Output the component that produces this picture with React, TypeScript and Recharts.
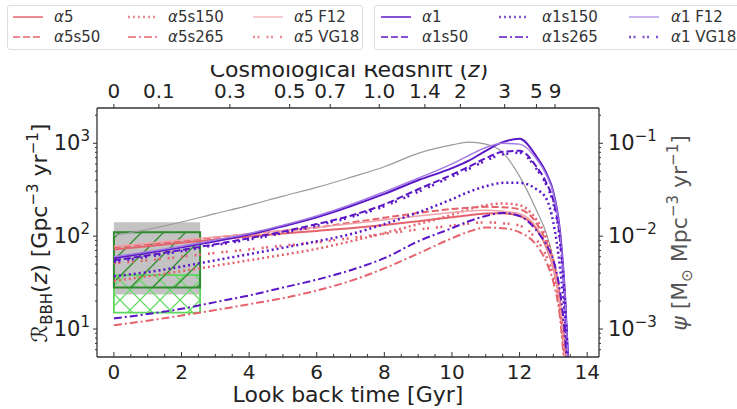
import React from 'react'
import { LineChart, Line, XAxis, YAxis, ReferenceArea } from 'recharts'

// look back time [Gyr]
const lookback = [0, 1, 2, 3, 4, 5, 6, 7, 8, 9, 10, 10.5, 11, 11.5, 12, 12.5, 12.8, 13.0, 13.2, 13.35, 13.5]

// merger rates, Gpc^-3 yr^-1
const a5 = [72, 78, 85, 92, 99, 107, 114, 122, 132, 145, 160, 168, 175, 177, 165, 120, 75, 45, 18, 4, 0.5]
const a5s50 = [76, 82, 89, 97, 105, 114, 124, 140, 158, 178, 196, 203, 207, 205, 195, 138, 85, 50, 20, 4.5, 0.5]
const a5s150 = [33, 37, 42, 48, 55, 63, 73, 88, 108, 135, 170, 195, 215, 225, 215, 150, 95, 55, 21, 5, 0.6]
const a5s265 = [11, 12.3, 14, 16, 18.5, 21.5, 26, 33, 45, 65, 95, 112, 124, 122, 110, 80, 52, 32, 13, 3, 0.4]
const a5F12 = [78, 84, 91, 98, 106, 115, 125, 136, 150, 165, 180, 187, 190, 185, 175, 125, 78, 46, 18, 4, 0.5]
const a5VG18 = [51, 55, 60, 66, 72, 79, 86, 95, 106, 118, 130, 137, 141, 138, 130, 92, 60, 36, 15, 3.5, 0.5]

const a1 = [58, 66, 76, 88, 104, 128, 160, 210, 285, 400, 540, 650, 830, 1030, 1120, 720, 470, 300, 110, 22, 1.5]
const a1s50 = [55, 62, 71, 82, 95, 112, 135, 166, 220, 320, 460, 560, 690, 810, 830, 560, 370, 240, 90, 18, 1.3]
const a1s150 = [37, 41, 47, 55, 64, 75, 88, 105, 135, 180, 250, 300, 345, 375, 375, 320, 250, 140, 45, 12, 1]
const a1s265 = [13, 14.5, 16.5, 19.5, 23, 28, 34, 43, 58, 88, 122, 145, 165, 178, 165, 115, 80, 55, 25, 8, 1]
const a1F12 = [60, 68, 78, 91, 107, 131, 165, 218, 300, 420, 600, 740, 900, 1000, 980, 680, 450, 290, 105, 21, 1.5]
const a1VG18 = [53, 60, 69, 80, 92, 108, 130, 160, 210, 300, 440, 530, 650, 760, 790, 530, 350, 225, 85, 17, 1.2]

// cosmic star formation rate, Msun Mpc^-3 yr^-1
const psi = [0.0102, 0.0118, 0.0142, 0.0175, 0.0215, 0.027, 0.0335, 0.043, 0.056, 0.078, 0.096, 0.103, 0.098, 0.08, 0.044, 0.019, 0.0105, 0.0055, 0.0018, 0.0006, 0.0001]

// local rate estimates (t from, t to, low, high)
const boxGray = [0, 2.55, 23.5, 141]
const boxLight = [0, 2.55, 15, 38]
const boxDark = [0, 2.55, 28, 110]

// redshift ticks on the top axis
const zTickPos = [0, 1.33, 3.43, 5.2, 6.4, 7.85, 9.2, 10.25, 11.56, 12.5, 13.05]
const zTickLabels = ['0', '0.1', '0.3', '0.5', '0.7', '1.0', '1.4', '2', '3', '5', '9']

const tTicks = Array.from({ length: 29 }, (_, i) => i * 0.5)
const rTicks = [6, 7, 8, 9, 10, 20, 30, 40, 50, 60, 70, 80, 90, 100, 200, 300, 400, 500, 600, 700, 800, 900, 1000, 2000]
const rMajor: Record<number, string> = { 10: '1', 100: '2', 1000: '3' }
const psiTicks = rTicks.map((v) => v / 10000)
const psiMajor: Record<string, string> = { '0.001': '−3', '0.01': '−2', '0.1': '−1' }

const RED = '#e4636c'
const RED_LIGHT = '#f0a2a7'
const PURPLE = '#5b16c6'
const PURPLE_LIGHT = '#a17ae4'

const FONT = 'DejaVu Sans, sans-serif'

const redSeries = [
  { key: 'a5', name: 'α5', data: a5, color: RED, dash: undefined, w: 2 },
  { key: 'a5s50', name: 'α5s50', data: a5s50, color: RED, dash: '7 3', w: 2 },
  { key: 'a5s150', name: 'α5s150', data: a5s150, color: RED, dash: '2 3', w: 2.5 },
  { key: 'a5s265', name: 'α5s265', data: a5s265, color: RED, dash: '8 3 2 3', w: 2 },
  { key: 'a5F12', name: 'α5 F12', data: a5F12, color: RED_LIGHT, dash: undefined, w: 1.5 },
  { key: 'a5VG18', name: 'α5 VG18', data: a5VG18, color: RED, dash: '2 2.5 2 7', w: 2.5 },
]
const purpleSeries = [
  { key: 'a1', name: 'α1', data: a1, color: PURPLE, dash: undefined, w: 2 },
  { key: 'a1s50', name: 'α1s50', data: a1s50, color: PURPLE, dash: '7 3', w: 2 },
  { key: 'a1s150', name: 'α1s150', data: a1s150, color: PURPLE, dash: '2 3', w: 2.5 },
  { key: 'a1s265', name: 'α1s265', data: a1s265, color: PURPLE, dash: '8 3 2 3', w: 2 },
  { key: 'a1F12', name: 'α1 F12', data: a1F12, color: PURPLE_LIGHT, dash: undefined, w: 1.5 },
  { key: 'a1VG18', name: 'α1 VG18', data: a1VG18, color: PURPLE, dash: '2 2.5 2 7', w: 2.5 },
]
const allSeries = [...redSeries, ...purpleSeries]

const rows = lookback.map((t, i) => {
  const row: Record<string, number> = { t, psi: psi[i] }
  allSeries.forEach((s) => { row[s.key] = s.data[i] })
  return row
})

const BottomTick = (props: any) => {
  const { x, y, payload } = props
  const v = payload.value
  const major = v % 2 === 0
  return (
    <g>
      <line x1={x} x2={x} y1={y} y2={y - (major ? 5 : 3)} stroke='#333' />
      {major && <text x={x} y={y + 22} textAnchor='middle' fontSize={20} fill='#222' fontFamily={FONT}>{v}</text>}
    </g>
  )
}

const TopTick = (props: any) => {
  const { x, y, index } = props
  return (
    <g>
      <line x1={x} x2={x} y1={y} y2={y - 4} stroke='#333' />
      <text x={x} y={y - 10} textAnchor='middle' fontSize={20} fill='#222' fontFamily={FONT}>{zTickLabels[index]}</text>
    </g>
  )
}

const LeftTick = (props: any) => {
  const { x, y, payload } = props
  const exp = rMajor[payload.value]
  return (
    <g>
      <line x1={x} x2={x - (exp ? 4 : 2)} y1={y} y2={y} stroke='#333' />
      {exp && (
        <text x={x - 7} y={y + 7} textAnchor='end' fontSize={21} fill='#222' fontFamily={FONT}>
          10<tspan dy={-9} fontSize={15}>{exp}</tspan>
        </text>
      )}
    </g>
  )
}

const RightTick = (props: any) => {
  const { x, y, payload } = props
  const exp = psiMajor[String(payload.value)]
  return (
    <g>
      <line x1={x} x2={x + (exp ? 4 : 2)} y1={y} y2={y} stroke='#333' />
      {exp && (
        <text x={x + 9} y={y + 7} textAnchor='start' fontSize={21} fill='#222' fontFamily={FONT}>
          10<tspan dy={-9} fontSize={15}>{exp}</tspan>
        </text>
      )}
    </g>
  )
}

const LegendBox = ({ items, left, width, cols }: { items: typeof redSeries, left: number, width: number, cols: number[][] }) => (
  <div style={{ position: 'absolute', left, top: 5, width, height: 45, border: '1px solid #ddd', borderRadius: 3, background: '#fff', boxSizing: 'border-box', fontFamily: FONT }}>
    {items.map((s, i) => {
      const [hx, tx] = cols[Math.floor(i / 2)]
      const cy = i % 2 === 0 ? 11 : 31
      return (
        <React.Fragment key={s.key}>
          <svg style={{ position: 'absolute', left: hx, top: cy - 3 }} width={30} height={6}>
            <line x1={0} x2={30} y1={3} y2={3} stroke={s.color} strokeOpacity={0.75} strokeWidth={s.w} strokeDasharray={s.dash} />
          </svg>
          <span style={{ position: 'absolute', left: tx, top: cy - 10, fontSize: 15, lineHeight: '20px', color: '#333', whiteSpace: 'nowrap' }}>
            <i>α</i>{s.name.slice(1)}
          </span>
        </React.Fragment>
      )
    })}
  </div>
)

const App = () => {
  return (
    <div style={{ position: 'absolute', left: 0, top: 0, width: 737, height: 409, overflow: 'hidden', background: '#fff' }}>
      <svg width={0} height={0} style={{ position: 'absolute' }}>
        <defs>
          <pattern id='hatchDiag' patternUnits='userSpaceOnUse' width={22} height={22}>
            <path d='M-2,2 L2,-2 M0,22 L22,0 M20,24 L24,20' stroke='#2e8b2e' strokeWidth={1.3} />
          </pattern>
          <pattern id='hatchCross' patternUnits='userSpaceOnUse' width={20} height={20}>
            <path d='M0,0 L20,20 M0,20 L20,0' stroke='#66d966' strokeWidth={1.3} />
          </pattern>
        </defs>
      </svg>
      <LineChart width={737} height={409} data={rows} margin={{ top: 0, right: 0, bottom: 0, left: 0 }}>
        <XAxis xAxisId='bottom' dataKey='t' type='number' domain={[-0.5, 14.35]} allowDataOverflow
          ticks={tTicks} interval={0} tick={BottomTick} tickLine={false} tickSize={0} tickMargin={0}
          height={52} axisLine={{ stroke: '#333', strokeWidth: 1.3 }} />
        <XAxis xAxisId='top' orientation='top' dataKey='t' type='number' domain={[-0.5, 14.35]} allowDataOverflow
          ticks={zTickPos} interval={0} tick={TopTick} tickLine={false} tickSize={0} tickMargin={0}
          height={108} axisLine={{ stroke: '#333', strokeWidth: 1.3 }} />
        <YAxis yAxisId='left' type='number' scale='log' domain={[5, 2400]} allowDataOverflow
          ticks={rTicks} interval={0} tick={LeftTick} tickLine={false} tickSize={0} tickMargin={0}
          width={97} axisLine={{ stroke: '#333', strokeWidth: 1.3 }} />
        <YAxis yAxisId='right' orientation='right' type='number' scale='log' domain={[0.0005, 0.24]} allowDataOverflow
          ticks={psiTicks} interval={0} tick={RightTick} tickLine={false} tickSize={0} tickMargin={0}
          width={138} axisLine={{ stroke: '#333', strokeWidth: 1.3 }} />

        <ReferenceArea xAxisId='bottom' yAxisId='left' x1={boxGray[0]} x2={boxGray[1]} y1={boxGray[2]} y2={boxGray[3]}
          fill='#bcbcbc' fillOpacity={0.9} stroke='none' />
        <ReferenceArea xAxisId='bottom' yAxisId='left' x1={boxLight[0]} x2={boxLight[1]} y1={boxLight[2]} y2={boxLight[3]}
          fill='url(#hatchCross)' fillOpacity={1} stroke='#5cd65c' strokeWidth={1.8} />
        <ReferenceArea xAxisId='bottom' yAxisId='left' x1={boxDark[0]} x2={boxDark[1]} y1={boxDark[2]} y2={boxDark[3]}
          fill='url(#hatchDiag)' fillOpacity={1} stroke='#2e8b2e' strokeWidth={2} />

        <Line xAxisId='top' yAxisId='right' dataKey='psi' type='monotone' stroke='#9a9a9a' strokeWidth={1.2}
          dot={false} isAnimationActive={false} />
        {allSeries.map((s) => (
          <Line key={s.key} xAxisId='bottom' yAxisId='left' dataKey={s.key} type='monotone' stroke={s.color}
            strokeWidth={s.w} strokeDasharray={s.dash} dot={false} isAnimationActive={false} />
        ))}
      </LineChart>
      <svg width={737} height={409} style={{ position: 'absolute', left: 0, top: 0, pointerEvents: 'none' }} fontFamily={FONT}>
        <text x={349} y={77} textAnchor='middle' fontSize={22} fill='#222'>
          Cosmological Redshift (<tspan fontStyle='italic'>z</tspan>)
        </text>
        <rect x={0} y={0} width={737} height={65} fill='#fff' />
        <text x={348} y={402} textAnchor='middle' fontSize={22} fill='#222'>Look back time [Gyr]</text>
        <text transform='translate(47,233) rotate(-90)' textAnchor='middle' fontSize={22} fill='#222'>
          ℛ<tspan dy={5} fontSize={15}>BBH</tspan><tspan dy={-5}>(</tspan><tspan fontStyle='italic'>z</tspan>) [Gpc<tspan dy={-9} fontSize={15}>−3</tspan><tspan dy={9}> yr</tspan><tspan dy={-9} fontSize={15}>−1</tspan><tspan dy={9}>]</tspan>
        </text>
        <text transform='translate(687,233) rotate(-90)' textAnchor='middle' fontSize={22} fill='#555'>
          <tspan fontStyle='italic'>ψ</tspan> [M<tspan dy={5} fontSize={15}>⊙</tspan><tspan dy={-5}> Mpc</tspan><tspan dy={-9} fontSize={15}>−3</tspan><tspan dy={9}> yr</tspan><tspan dy={-9} fontSize={15}>−1</tspan><tspan dy={9}>]</tspan>
        </text>
      </svg>
      <LegendBox items={redSeries} left={7} width={356} cols={[[5, 46], [120, 160], [245, 286]]} />
      <LegendBox items={purpleSeries} left={374} width={370} cols={[[6, 47], [124, 167], [254, 296]]} />
    </div>
  )
}

export default App
